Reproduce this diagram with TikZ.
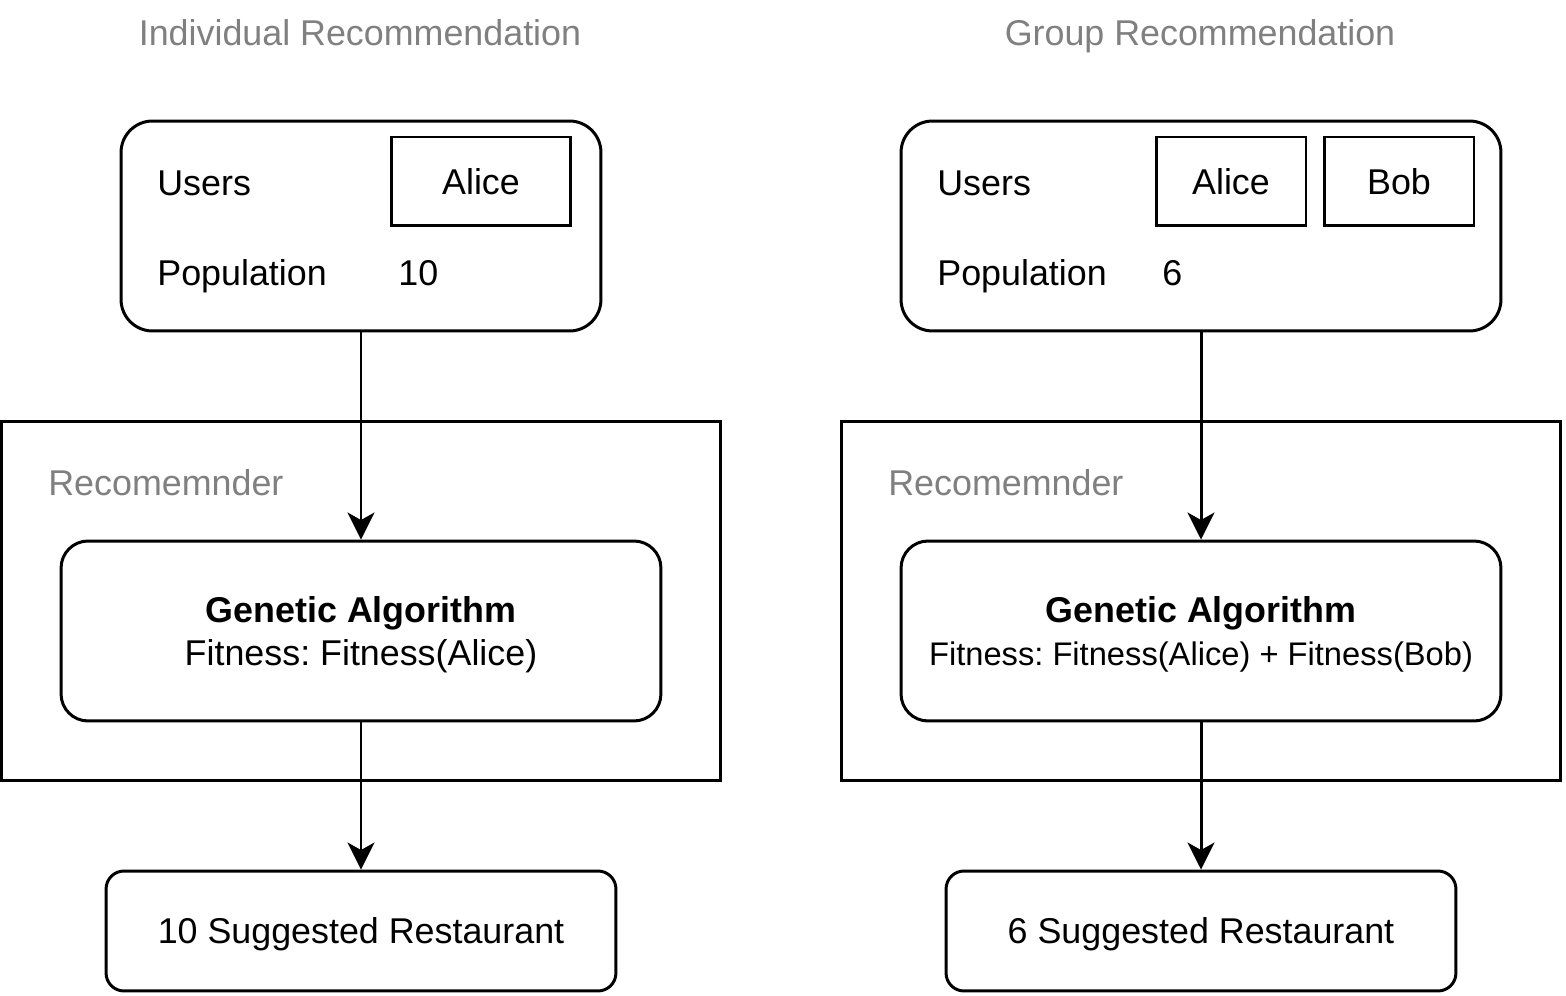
\documentclass[tikz,border=0pt]{standalone}
\usepackage{fontspec}
\setmainfont{Liberation Sans}
\frenchspacing
\usetikzlibrary{arrows.meta,positioning}
\definecolor{titlegray}{HTML}{808080}

\tikzset{
    box/.style={draw, line width=1.7pt, rounded corners=#1, inner sep=0pt, text height=14.7pt, text depth=0pt},
    box/.default=0.6cm,
    namebox/.style={draw, line width=1.7pt, minimum height=1.78cm, inner sep=0pt, text height=14.7pt, text depth=0pt},
    label/.style={anchor=west, inner sep=0pt, text height=14.7pt, text depth=0pt},
    title/.style={text=titlegray, inner sep=0pt, text height=14.7pt, text depth=0pt},
    flow/.style={line width=1.7pt, -{Stealth[length=0.54cm, width=0.54cm, inset=0.15cm]}}
}

\begin{document}
\begin{tikzpicture}[x=0.02cm, y=-0.02cm, font=\fontsize{20.4}{24}\selectfont]
        \useasboundingbox (0,0) rectangle (1566,996);
        % titles
        \node[title] (titleL) at (360,33) {Individual Recommendation};
        \node[title] (titleR) at (1200,33) {Group Recommendation};

        % individual recommendation
        \node[box=0.63cm, minimum width=9.6cm, minimum height=4.2cm] (usersL) at (361,226) {};
        \node[namebox, minimum width=3.6cm] (aliceL) at (481,181.5) {Alice};
        \node[label] (usersLabelL) at (157,183) {Users};
        \node[label] (popLabelL) at (157,273) {Population};
        \node[label] (popL) at (398,273) {10};
        \node[draw, line width=1.7pt, minimum width=14.4cm, minimum height=7.2cm] (recL) at (361,601) {};
        \node[label, title] (recLabelL) at (48,483) {Recomemnder};
        \node[box=0.54cm, minimum width=12cm, minimum height=3.6cm, align=center, text height=, text depth=0pt] (gaL) at (361,631)
            {\textbf{Genetic Algorithm}\\Fitness: Fitness(Alice)};
        \node[box=0.36cm, minimum width=10.2cm, minimum height=2.4cm] (outL) at (361,931) {10 Suggested Restaurant};
        \draw[flow] (usersL.south) -- (gaL.north);
        \draw[flow] (gaL.south) -- (outL.north);

        % group recommendation
        \node[box=0.63cm, minimum width=12cm, minimum height=4.2cm] (usersR) at (1201,226) {};
        \node[namebox, minimum width=3cm] (aliceR) at (1231,181.5) {Alice};
        \node[namebox, minimum width=3cm] (bobR) at (1399,181.5) {Bob};
        \node[label] (usersLabelR) at (937,183) {Users};
        \node[label] (popLabelR) at (937,273) {Population};
        \node[label] (popR) at (1162,273) {6};
        \node[draw, line width=1.7pt, minimum width=14.4cm, minimum height=7.2cm] (recR) at (1201,601) {};
        \node[label, title] (recLabelR) at (888,483) {Recomemnder};
        \node[box=0.54cm, minimum width=12cm, minimum height=3.6cm, align=center, text height=, text depth=0pt] (gaR) at (1201,631)
            {\textbf{Genetic Algorithm}\\{\fontsize{18.6}{22}\selectfont Fitness: Fitness(Alice) + Fitness(Bob)}};
        \node[box=0.36cm, minimum width=10.2cm, minimum height=2.4cm] (outR) at (1201,931) {6 Suggested Restaurant};
        \draw[flow] (usersR.south) -- (gaR.north);
        \draw[flow] (gaR.south) -- (outR.north);
    \end{tikzpicture}
\end{document}
